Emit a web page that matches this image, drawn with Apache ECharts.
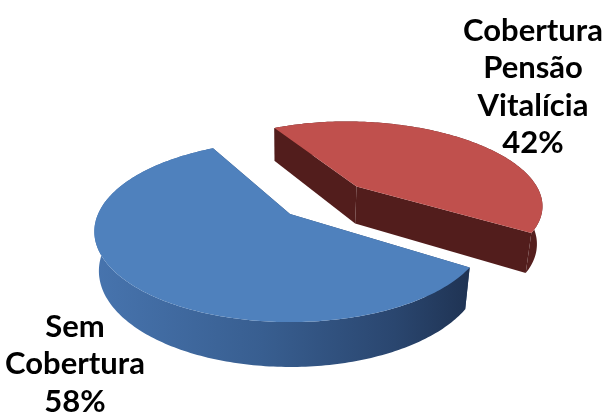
<!DOCTYPE html>
<html>
<head>
<meta charset="utf-8">
<script src="https://cdn.jsdelivr.net/npm/echarts@6/dist/echarts.min.js"></script>
<style>html,body{margin:0;padding:0;background:#fff;}#chart{width:605px;height:414px;}</style>
</head>
<body>
<div id="chart"></div>
<script>
// ---- data ----
const categories = ['Cobertura Pensão Vitalícia', 'Sem Cobertura'];
const values = [42, 58];
const labelLines = [['Cobertura', 'Pensão', 'Vitalícia'], ['Sem', 'Cobertura']];
const topColors = ['#C0504D', '#4F81BD'];
const explodeAmount = [0.5, 0];

// ---- 3D view (layout) ----
const CX = 290, CY = 214;       // screen position of pie centre
const F = 883, D = 4.6;         // focal length, camera distance (radius = 1)
const TILT = 27 * Math.PI / 180;
const S = Math.sin(TILT), C = Math.cos(TILT);
const T = 0.232;                // thickness
const START = 118 * Math.PI / 180; // first slice starts here, goes clockwise
const labelPos = [[533, 12], [75, 308]];

function proj(u, v, h) {
  const zc = D + v * C - h * S;
  const yc = v * S + h * C;
  return [CX + F * u / zc, CY - F * yc / zc];
}

const total = values.reduce((a, b) => a + b, 0);

function wallFill(i) {
  if (i === 1) {
    return new echarts.graphic.LinearGradient(0, 0, 1, 0, [
      { offset: 0, color: '#4774AE' },
      { offset: 0.45, color: '#385E90' },
      { offset: 0.8, color: '#2A466F' },
      { offset: 1, color: '#1F3353' }
    ]);
  }
  return '#551F1E';
}

function renderItem(params, api) {
  const i = params.dataIndex;
  let before = 0;
  for (let k = 0; k < i; k++) before += values[k];
  const a0 = START - before / total * Math.PI * 2;
  const a1 = a0 - values[i] / total * Math.PI * 2;
  const mid = (a0 + a1) / 2;
  const e = explodeAmount[i];
  const ou = e * Math.cos(mid), ov = e * Math.sin(mid);
  const n = Math.max(8, Math.ceil(Math.abs(a0 - a1) / (Math.PI / 180)));
  const topArc = [], botArc = [];
  for (let k = 0; k <= n; k++) {
    const a = a0 + (a1 - a0) * k / n;
    topArc.push(proj(ou + Math.cos(a), ov + Math.sin(a), 0));
    botArc.push(proj(ou + Math.cos(a), ov + Math.sin(a), -T));
  }
  const base = Math.round((1 - Math.sin(mid)) * 50) * 4;
  const cTop = proj(ou, ov, 0), cBot = proj(ou, ov, -T);
  const children = [];
  const radial = (a, normalV) => ({
    type: 'polygon',
    z2: base + (normalV < 0 ? 2 : 0),
    shape: { points: [cTop, proj(ou + Math.cos(a), ov + Math.sin(a), 0), proj(ou + Math.cos(a), ov + Math.sin(a), -T), cBot] },
    style: { fill: i === 1 ? '#2C4A74' : '#521D1C', stroke: null }
  });
  children.push(radial(a0, Math.cos(a0)));      // normal (-sin a0, cos a0)
  children.push(radial(a1, -Math.cos(a1)));     // normal (sin a1, -cos a1)
  children.push({
    type: 'polygon',
    z2: base + 1,
    shape: { points: topArc.concat(botArc.slice().reverse()) },
    style: { fill: wallFill(i), stroke: null }
  });
  children.push({
    type: 'polygon',
    z2: base + 3,
    shape: { points: [cTop].concat(topArc) },
    style: { fill: topColors[i], stroke: null }
  });
  const pct = Math.round(values[i] / total * 100) + '%';
  children.push({
    type: 'text',
    z2: 500,
    style: {
      text: labelLines[i].concat([pct]).join('\n'),
      x: labelPos[i][0], y: labelPos[i][1],
      align: 'center', verticalAlign: 'top',
      fontFamily: 'Lato', fontWeight: 'bold', fontSize: 31,
      lineHeight: 37.5, fill: '#000'
    }
  });
  return { type: 'group', children: children };
}

const chart = echarts.init(document.getElementById('chart'), null, { renderer: 'canvas' });
chart.setOption({
  backgroundColor: '#ffffff',
  animation: false,
  series: [{
    type: 'custom',
    coordinateSystem: 'none',
    renderItem: renderItem,
    data: categories.map((c, i) => ({ name: c, value: values[i] }))
  }]
});
</script>
</body>
</html>
